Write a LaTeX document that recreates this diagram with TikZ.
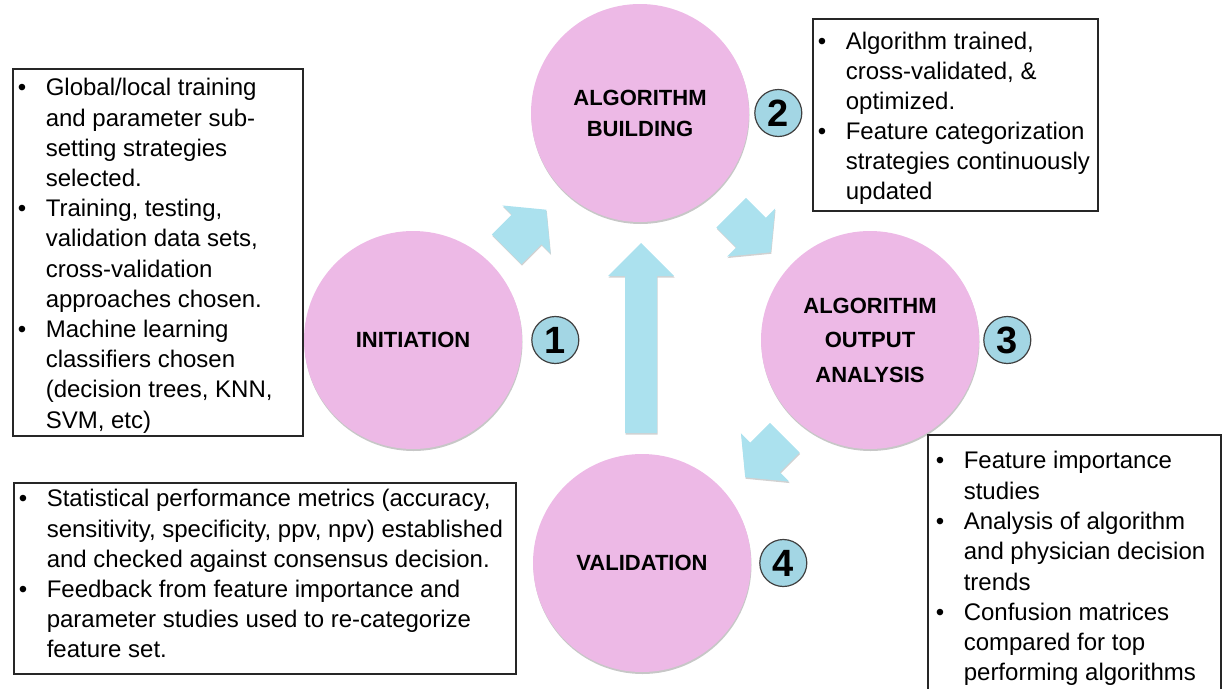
\documentclass[tikz,border=0pt]{standalone}
\usepackage{fontspec}
\setmainfont{Liberation Sans}
\usetikzlibrary{calc,positioning,shadows}

\definecolor{stagepink}{HTML}{EDB9E6}
\definecolor{arrowblue}{HTML}{ABE1EE}
\definecolor{numblue}{HTML}{A3D6E4}

\newcommand{\itm}{\par\hangindent=28pt\hangafter=1\noindent\makebox[28pt][l]{\textbullet}}
\newenvironment{notelist}[1]{\begin{minipage}[t]{#1}\raggedright}{\par\end{minipage}}
\def\blockarrow[#1](#2)(#3:#4:#5:#6:#7){\fill[#1, shift={(#2)}, rotate=#3] (-#4,-#5) -- ({#4-#7},-#5) -- ({#4-#7},-#6) -- (#4,0) -- ({#4-#7},#6) -- ({#4-#7},#5) -- (-#4,#5) -- cycle;}

\tikzset{
	stage/.style={circle, fill=stagepink, minimum size=218pt, inner sep=0pt, align=center,
		font=\bfseries\fontsize{22}{31}\selectfont,
		drop shadow={shadow xshift=0.5pt, shadow yshift=-2pt, opacity=0.22, fill=black}},
	stepnum/.style={circle, draw=black!75, line width=1.2pt, fill=numblue, minimum size=47pt,
		inner sep=0pt, font=\bfseries\fontsize{38}{38}\selectfont},
	notes/.style={draw=black!85, line width=1.6pt, anchor=north west, inner xsep=5pt, inner ysep=0pt,
		font=\fontsize{24}{30.2}\selectfont},
	arrowpath/.style={fill=arrowblue, drop shadow={shadow xshift=0.5pt, shadow yshift=-1.5pt, opacity=0.18, fill=black}}
}

\begin{document}
\begin{tikzpicture}[x=1pt, y=-1pt]
		%%%%% START %%%%%
		\useasboundingbox (0,0) rectangle (1225,688);
		\clip (0,0) rectangle (1225,688);
		
		% stages
		\node[stage] (init) at (413,340) {INITIATION};
		\node[stage] (build) at (640,113) {ALGORITHM\\BUILDING};
		\node[stage, font=\bfseries\fontsize{22}{34.5}\selectfont] (output) at (870,340) {ALGORITHM\\OUTPUT\\ANALYSIS};
		\node[stage] (valid) at (642,563) {VALIDATION};
		
		% step numbers
		\node[stepnum, right=9pt of init] (num1) {1};
		\node[stepnum, right=5pt of build] (num2) {2};
		\node[stepnum, right=4pt of output] (num3) {3};
		\node[stepnum, right=8pt of valid] (num4) {4};
		
		% arrows between the stages
		\coordinate (m12) at ($(init)!0.5!(build)+(0,3)$);
		\coordinate (m23) at ($(build)!0.5!(output)+(-4,6)$);
		\coordinate (m34) at ($(output)!0.5!(valid)+(9,6)$);
		\coordinate (m41) at ($(valid)!0.5!(build)$);
		\blockarrow[arrowpath](m12)(45:28:21:34:28);
		\blockarrow[arrowpath](m23)(-45:28:21:34:28);
		\blockarrow[arrowpath](m34)(-135:28:21:34:28);
		\blockarrow[arrowpath](m41)(90:95:16:33:33);
		
		% notes
		\node[notes, text height=27pt, text depth=340pt] (initnotes) at (12,68) {%
			\begin{notelist}{280pt}
			\itm Global/local training\newline and parameter sub-\newline setting strategies\newline selected.
			\itm Training, testing,\newline validation data sets,\newline cross-validation\newline approaches chosen.
			\itm Machine learning\newline classifiers chosen\newline (decision trees, KNN,\newline SVM, etc)
			\end{notelist}};
		
		\node[notes, text height=31pt, text depth=161pt, font=\fontsize{24}{30}\selectfont] (buildnotes) at (812,18) {%
			\begin{notelist}{275pt}
			\itm Algorithm trained,\newline cross-validated, \&\newline optimized.
			\itm Feature categorization\newline strategies continuously\newline updated
			\end{notelist}};
		
		\node[notes, inner xsep=8pt, text height=34pt, text depth=300pt, font=\fontsize{24}{30.3}\selectfont] (outputnotes) at (927,434) {%
			\begin{notelist}{277pt}
			\itm Feature importance\newline studies
			\itm Analysis of algorithm\newline and physician decision\newline trends
			\itm Confusion matrices\newline compared for top\newline performing algorithms
			\end{notelist}};
		
		\node[notes, text height=24pt, text depth=167pt] (validnotes) at (13,482) {%
			\begin{notelist}{492pt}
			\itm Statistical performance metrics (accuracy,\newline sensitivity, specificity, ppv, npv) established\newline and checked against consensus decision.
			\itm Feedback from feature importance and\newline parameter studies used to re-categorize\newline feature set.
			\end{notelist}};
		%%%%% END %%%%%
\end{tikzpicture}
\end{document}
